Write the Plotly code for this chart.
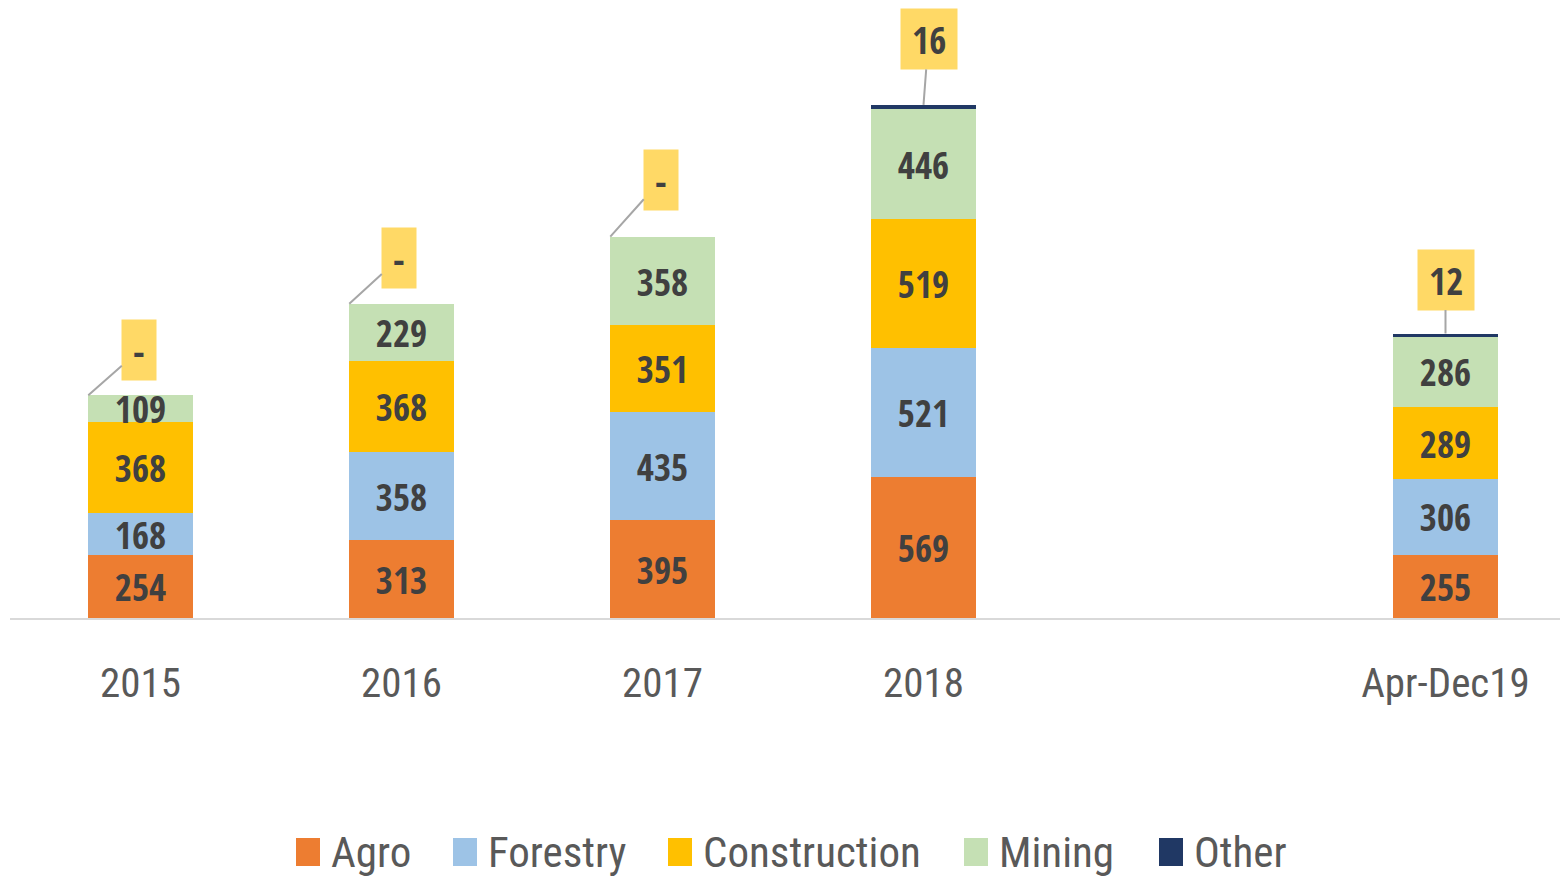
import plotly.graph_objects as go

categories = ["2015", "2016", "2017", "2018", " ", "Apr-Dec19"]
agro = [254, 313, 395, 569, None, 255]
forestry = [168, 358, 435, 521, None, 306]
construction = [368, 368, 351, 519, None, 289]
mining = [109, 229, 358, 446, None, 286]
other = [0, 0, 0, 16, None, 12]

series_names = ["Agro", "Forestry", "Construction", "Mining", "Other"]
series_values = [agro, forestry, construction, mining, other]
series_colors = ["#ED7D31", "#9DC3E6", "#FFC000", "#C5E0B4", "#203864"]

LABEL_FONT = "Open Sans Condensed, Roboto Condensed, DejaVu Sans Condensed, sans-serif"
AXIS_FONT = "Roboto Condensed, DejaVu Sans Condensed, sans-serif"

# layout geometry (figure pixels)
L, T, B = 2, 0, 268
W, H = 1568, 878
PLOT_H = H - T - B
PLOT_W = W - L

fig = go.Figure()
for name, vals, col in zip(series_names, series_values, series_colors):
    fig.add_trace(go.Bar(
        x=categories, y=vals, name=name, marker_color=col,
        marker_line_width=0,
        text=[("" if v is None else str(v)) for v in vals],
        textposition="none" if name == "Other" else "inside",
        insidetextanchor="middle",
        textfont=dict(family=LABEL_FONT, size=37, color="#404040", weight="bold"),
        width=0.4, showlegend=False,
    ))

# Callout boxes for "Other"
offsets = {0: (51, -45), 1: (50, -46), 2: (51, -57), 3: (5, -66), 5: (0, -54)}
for i, cat in enumerate(categories):
    v = other[i]
    if v is None:
        continue
    total = sum(s[i] for s in series_values)
    ax, ay = offsets[i]
    tipx = i - 0.2 if v == 0 else i
    fig.add_annotation(
        x=tipx, y=total, xref="x", yref="y",
        text="-" if v == 0 else str(v),
        showarrow=True, arrowhead=0, arrowwidth=2, arrowcolor="#A6A6A6",
        ax=ax, ay=ay,
        font=dict(family=LABEL_FONT, size=37, color="#404040", weight="bold"),
        bgcolor="#FFD966", borderpad=11, height=38,
    )

# Manual legend with large square swatches
LEGEND_SWATCH_X = [288, 445, 660, 956, 1151]   # figure px, left edge of swatch
LEGEND_Y = 844
for name, col, sx in zip(series_names, series_colors, LEGEND_SWATCH_X):
    x0 = (sx - L) / PLOT_W
    x1 = (sx + 24 - L) / PLOT_W
    y0 = (PLOT_H + T - (LEGEND_Y + 14)) / PLOT_H
    y1 = (PLOT_H + T - (LEGEND_Y - 14)) / PLOT_H
    fig.add_shape(type="rect", xref="paper", yref="paper", x0=x0, x1=x1, y0=y0, y1=y1,
                  fillcolor=col, line_width=0)
    fig.add_annotation(xref="paper", yref="paper", x=(sx + 33 - L) / PLOT_W,
                       y=(PLOT_H + T - LEGEND_Y) / PLOT_H, xanchor="left", yanchor="middle",
                       text=name, showarrow=False,
                       font=dict(family=AXIS_FONT, size=43, color="#595959"))

fig.update_layout(
    barmode="stack",
    width=W, height=H,
    margin=dict(l=L, r=0, t=T, b=B),
    plot_bgcolor="white", paper_bgcolor="white",
    showlegend=False,
    uniformtext=dict(mode="show", minsize=37),
    bargap=0.6,
)
fig.update_xaxes(type="category", range=[-0.5, 5.5], showline=True, linecolor="#D9D9D9",
                 linewidth=2, ticks="", showgrid=False,
                 tickfont=dict(family=AXIS_FONT, size=41, color="#595959"), ticklabelstandoff=28)
fig.update_yaxes(range=[0, 2462], visible=False, showgrid=False)

fig.write_html("out.html")
